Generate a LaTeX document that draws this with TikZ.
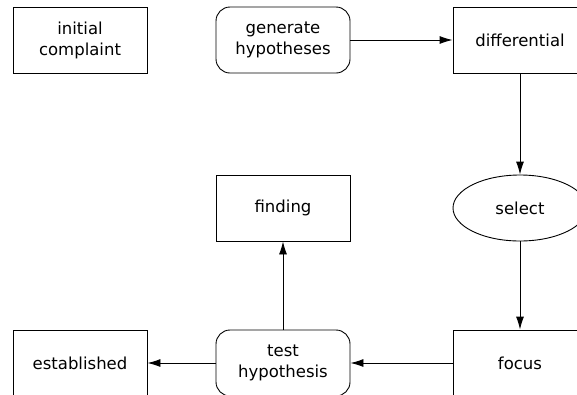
\documentclass[tikz,border=0pt]{standalone}
\usepackage{fontspec}
\setmainfont{DejaVu Sans}
\usetikzlibrary{arrows.meta,shapes.geometric}
\begin{document}
\begin{tikzpicture}[x=1pt,y=-1pt,
  every node/.style={font=\fontsize{16.5}{21}\selectfont, align=center, inner sep=0pt, line width=0.9pt},
  box/.style={draw, rectangle, minimum width=134pt, minimum height=66pt},
  rbox/.style={draw, rectangle, rounded corners=14pt, minimum width=134pt, minimum height=66pt},
  oval/.style={draw, ellipse, minimum width=134pt, minimum height=66pt},
  link/.style={line width=0.9pt, -{Latex[length=13pt,width=8pt]}}
]
\useasboundingbox (0,0) rectangle (577,394);
\clip (0,0) rectangle (577,394);
\fill[white] (0,0) rectangle (577,394);

% top row
\node[box]  (initial) at (80,40)  {initial\\complaint};
\node[rbox] (generate) at (283,40) {generate\\hypotheses};
\node[box]  (diff) at (520,40)     {differential};

% middle row
\node[box]  (finding) at (283,208) {finding};
\node[oval] (select) at (520,208)  {select};

% bottom row
\node[box]  (established) at (80,363) {established};
\node[rbox] (test) at (283,363)       {test\\hypothesis};
\node[box]  (focus) at (520,363)      {focus};

% connectors
\draw[link] (generate.east) -- (diff.west);
\draw[link] (diff.south) -- (select.north);
\draw[link] (select.south) -- (focus.north);
\draw[link] (focus.west) -- (test.east);
\draw[link] (test.west) -- (established.east);
\draw[link] (test.north) -- (finding.south);
\end{tikzpicture}
\end{document}
